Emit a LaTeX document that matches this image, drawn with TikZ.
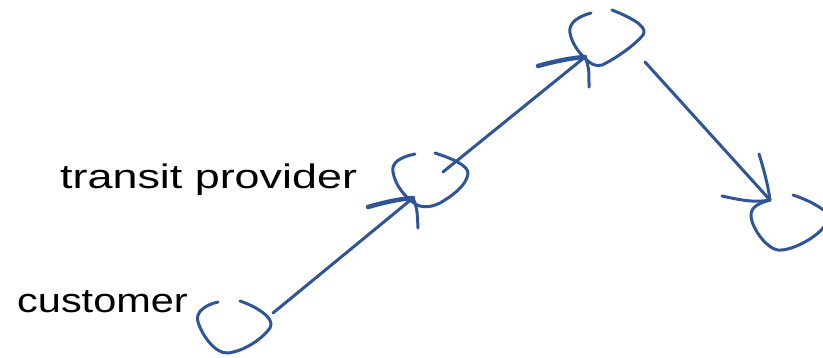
\documentclass[tikz,border=0pt]{standalone}
\usepackage{fontspec}
\setmainfont{Liberation Sans}
\definecolor{inkblue}{HTML}{2F5597}
\begin{document}
\begin{tikzpicture}[x=1pt,y=-1pt,
  ink/.style={draw=inkblue,line width=3pt,line cap=round,line join=round},
  barb/.style={draw=inkblue,line width=4.5pt,line cap=round},
  lbl/.style={anchor=base west,inner sep=0pt,font=\fontsize{34}{34}\selectfont}]
\useasboundingbox (0,0) rectangle (823,357);
\clip (0,0) rectangle (823,357);
% labels
\node[lbl] (ltrans) at (60,188) {\scalebox{1.32}[1]{transit provider}};
\node[lbl] (lcust) at (17,312) {\scalebox{1.22}[1]{customer}};
% node centres and connector ends
\coordinate (cust) at (235,327);
\coordinate (trans) at (430,180);
\coordinate (top) at (607,38);
\coordinate (dest) at (790,222);
\coordinate (custOut) at (273,313);
\coordinate (transIn) at (413,198);
\coordinate (transOut) at (443,172);
\coordinate (topIn) at (585,57);
\coordinate (topOut) at (645,62);
\coordinate (destIn) at (770,200);
% customer blob
\draw[ink] (218,302) .. controls (205,305) and (195,312) .. (198,322)
  .. controls (202,335) and (215,354) .. (228,353)
  .. controls (245,351) and (263,338) .. (270,328)
  .. controls (276,318) and (255,306) .. (240,301);
% transit blob
\draw[ink] (415,154) .. controls (400,157) and (391,163) .. (393,172)
  .. controls (395,185) and (405,197) .. (414,203)
  .. controls (420,208) and (430,208) .. (440,203)
  .. controls (452,196) and (466,186) .. (468,174)
  .. controls (469,165) and (450,158) .. (435,153);
% top blob
\draw[ink] (591,13) .. controls (580,16) and (568,22) .. (570,33)
  .. controls (572,43) and (578,52) .. (585,58)
  .. controls (590,64) and (596,67) .. (602,65)
  .. controls (615,59) and (635,45) .. (643,35)
  .. controls (647,29) and (640,21) .. (612,10);
% destination blob
\draw[ink] (770,200) .. controls (760,203) and (752,206) .. (751,214)
  .. controls (750,225) and (765,248) .. (778,250)
  .. controls (792,251) and (815,238) .. (823,228)
  .. controls (828,222) and (830,215) .. (830,212);
\draw[ink] (793,195) .. controls (805,199) and (816,204) .. (826,212);
% connectors
\draw[ink] (custOut) -- (transIn);
\draw[ink] (transOut) -- (topIn);
\draw[ink] (topOut) -- (destIn);
% arrowheads
\draw[barb] (transIn) .. controls (398,199) and (382,203) .. (368,207);
\draw[ink] (transIn) .. controls (417,208) .. (418,228);
\draw[barb] (topIn) .. controls (570,58) and (552,62) .. (538,66);
\draw[ink] (topIn) .. controls (589,68) .. (589,87);
\draw[ink] (destIn) .. controls (768,185) and (764,170) .. (759,154);
\draw[ink] (destIn) .. controls (755,203) and (740,200) .. (722,196);
\end{tikzpicture}
\end{document}
